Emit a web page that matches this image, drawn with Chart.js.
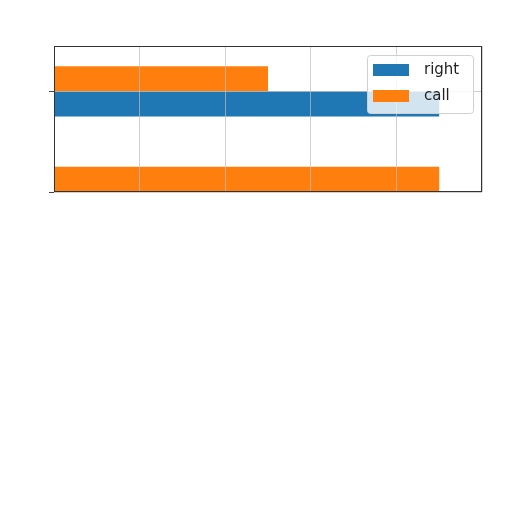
<!DOCTYPE html>
<html>
<head>
<meta charset="utf-8">
<script src="https://cdn.jsdelivr.net/npm/chart.js@4.4.0/dist/chart.umd.min.js"></script>
<style>
  html, body { margin: 0; padding: 0; background: #fff; }
  #wrap { width: 512px; height: 512px; }
</style>
</head>
<body>
<div id="wrap"><canvas id="barChart" width="512" height="512"></canvas></div>
<script>
// category positions on the (linear) y axis, top to bottom
var positions = [0, 1];
var callValues = [2.5, 4.5];
var rightValues = [4.5, 0];
var xTicks = [0, 1, 2, 3, 4, 5];

function toPoints(values) {
    return values.map(function (v, i) { return { x: v, y: positions[i] }; });
}

// legend drawn inside the plot, like a matplotlib legend box
var insideLegend = {
    id: 'insideLegend',
    afterDraw: function (chart) {
        var ctx = chart.ctx;
        var area = chart.chartArea;
        // frame round the plot
        ctx.save();
        ctx.strokeStyle = '#333';
        ctx.lineWidth = 1;
        ctx.strokeRect(area.left + 0.5, area.top + 0.5, area.right - area.left - 1, area.bottom - area.top - 1);

        var w = 106, h = 58;
        var x = area.right - 9 - w;
        var y = area.top + 9;
        ctx.beginPath();
        ctx.roundRect(x + 0.5, y + 0.5, w, h, 3);
        ctx.fillStyle = 'rgba(255,255,255,0.8)';
        ctx.fill();
        ctx.strokeStyle = '#d0d0d0';
        ctx.stroke();

        // legend order: right, then call
        var items = [chart.data.datasets[1], chart.data.datasets[0]];
        ctx.font = '15px "DejaVu Sans"';
        ctx.textBaseline = 'middle';
        items.forEach(function (ds, i) {
            var cy = y + 15 + i * 26;
            ctx.fillStyle = ds.backgroundColor;
            ctx.fillRect(x + 6, cy - 6, 36, 12);
            ctx.fillStyle = '#222';
            ctx.fillText(ds.label, x + 57, cy);
        });
        ctx.restore();
    }
};

var ctx = document.getElementById('barChart');
var chart = new Chart(ctx, {
    type: 'bar',
    data: {
        datasets: [{
            label: 'call',
            data: toPoints(callValues),
            backgroundColor: '#ff7f0e',
            borderWidth: 0
        }, {
            label: 'right',
            data: toPoints(rightValues),
            backgroundColor: '#1f77b4',
            borderWidth: 0
        }]
    },
    options: {
        responsive: false,
        animation: false,
        indexAxis: 'y',
        categoryPercentage: 0.5,
        barPercentage: 1,
        layout: { padding: { left: 49, right: 30, top: 46, bottom: 320 } },
        scales: {
            x: {
                type: 'linear',
                min: 0,
                max: 5,
                afterBuildTicks: function (scale) {
                    scale.ticks = xTicks.map(function (v) { return { value: v }; });
                },
                ticks: { display: false },
                grid: { z: 1, color: 'rgba(190,190,190,0.7)', drawTicks: false },
                border: { display: false }
            },
            y: {
                type: 'linear',
                reverse: true,
                offset: false,
                min: -0.45,
                max: 1.0,
                afterBuildTicks: function (scale) {
                    scale.ticks = positions.map(function (v) { return { value: v }; });
                },
                ticks: { display: false },
                grid: { z: 1, offset: false, color: 'rgba(190,190,190,0.7)', tickLength: 5, tickColor: '#444' },
                border: { display: false }
            }
        },
        plugins: {
            legend: { display: false },
            tooltip: { enabled: false }
        }
    },
    plugins: [insideLegend]
});
</script>
</body>
</html>
